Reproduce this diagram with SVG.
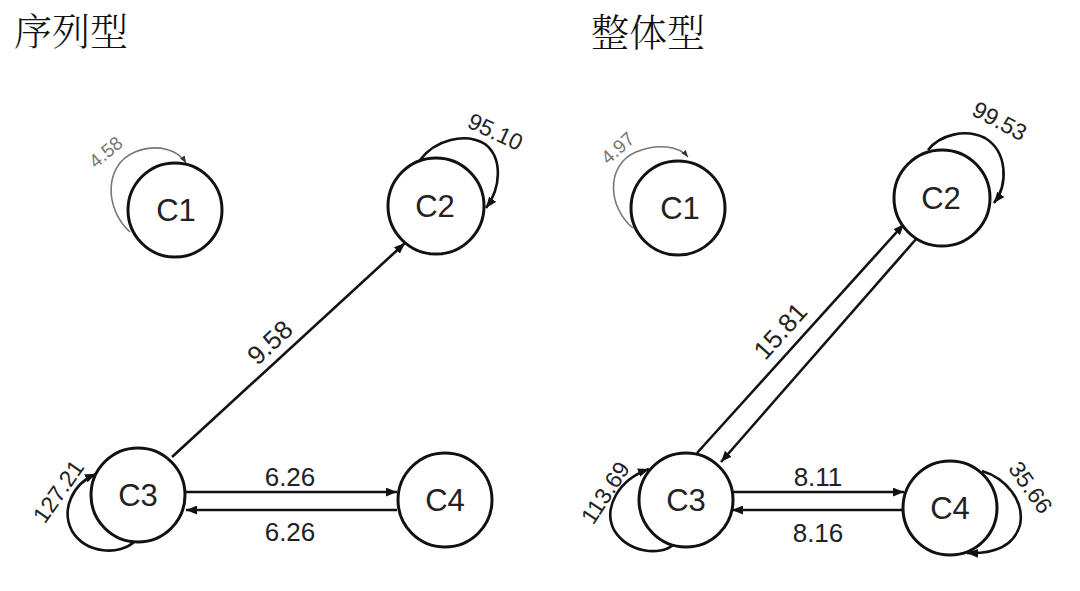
<svg xmlns="http://www.w3.org/2000/svg" width="1080" height="591" viewBox="0 0 1080 591">
<defs>
<style>
.node circle{fill:#fff;stroke:#111;stroke-width:3}
.node text{font-family:"Liberation Sans",Arial,sans-serif;font-size:31px;fill:#222;text-anchor:middle}
.edge{fill:none;stroke:#111;stroke-width:2.6}
.loopg{fill:none;stroke:#777;stroke-width:1.6}
.lbl{font-family:"Liberation Sans",Arial,sans-serif;font-size:26px;fill:#222;text-anchor:middle}
.lbls{font-family:"Liberation Sans",Arial,sans-serif;font-size:23px;fill:#222;text-anchor:middle}
.lblg{font-family:"Liberation Sans",Arial,sans-serif;font-size:19px;fill:#777;text-anchor:middle}
.title{font-family:"Noto Serif CJK SC","Noto Sans CJK SC","Noto Sans CJK JP",serif;font-size:38px;font-weight:300;fill:#111}
</style>
<marker id="ah" viewBox="0 0 10 8" refX="10" refY="4" markerWidth="11" markerHeight="9" markerUnits="userSpaceOnUse" orient="auto"><path d="M0,0 L10,4 L0,8 z" fill="#111"/></marker>
<marker id="ahg" viewBox="0 0 10 8" refX="10" refY="4" markerWidth="7" markerHeight="6" markerUnits="userSpaceOnUse" orient="auto"><path d="M0,0 L10,4 L0,8 z" fill="#333"/></marker>
</defs>
<rect width="1080" height="591" fill="#fff"/>
<text class="title" x="14" y="45">序列型</text>
<text class="title" x="591" y="46">整体型</text>

<g id="connectors">
<!-- left panel -->
<path class="loopg" d="M130,232 C105,210 103,165 135,152 C158,143 178,150 186,163" marker-end="url(#ahg)"/>
<path class="edge" d="M420,160 C435,140 465,132 485,144 C503,158 501,188 486,208" marker-end="url(#ah)"/>
<path class="edge" d="M135,541 C120,556 86,554 72,531 C61,510 72,484 96,474" marker-end="url(#ah)"/>
<path class="edge" d="M186,492 L397,492" marker-end="url(#ah)"/>
<path class="edge" d="M397,510 L186,510" marker-end="url(#ah)"/>
<path class="edge" d="M172,457 L405,243" marker-end="url(#ah)"/>
<!-- right panel -->
<path class="loopg" d="M633,228 C608,208 605,165 636,152 C658,143 679,146 688,157" marker-end="url(#ahg)"/>
<path class="edge" d="M928,150 C940,135 965,128 985,138 C1008,152 1008,185 994,203" marker-end="url(#ah)"/>
<path class="edge" d="M673,545 C660,556 628,553 614,530 C603,508 618,480 649,469" marker-end="url(#ah)"/>
<path class="edge" d="M982,471 C1005,478 1025,500 1020,525 C1014,546 995,554 967,553" marker-end="url(#ah)"/>
<path class="edge" d="M731,492 L904,492" marker-end="url(#ah)"/>
<path class="edge" d="M903,510 L732,510" marker-end="url(#ah)"/>
<path class="edge" d="M697,453 L904,224" marker-end="url(#ah)"/>
<path class="edge" d="M917,238 L721,462" marker-end="url(#ah)"/>
</g>

<g id="edge-labels">
<text class="lblg" transform="translate(110,157) rotate(-40)">4.58</text>
<text class="lbls" transform="translate(492,139) rotate(25)">95.10</text>
<text class="lbls" transform="translate(65,496) rotate(-55)">127.21</text>
<text class="lbl" transform="translate(276,349) rotate(-43)">9.58</text>
<text class="lbl" x="290" y="486">6.26</text>
<text class="lbl" x="290" y="541">6.26</text>
<text class="lblg" transform="translate(622,153) rotate(-42)">4.97</text>
<text class="lbls" transform="translate(996,128) rotate(28)">99.53</text>
<text class="lbls" transform="translate(612,497) rotate(-57)">113.69</text>
<text class="lbls" transform="translate(1024,492) rotate(55)">35.66</text>
<text class="lbl" transform="translate(787,337) rotate(-48)">15.81</text>
<text class="lbl" x="818" y="486">8.11</text>
<text class="lbl" x="818" y="542">8.16</text>
</g>

<g id="L-C1" class="node"><circle cx="175" cy="210" r="47"/><text x="176" y="221">C1</text></g>
<g id="L-C2" class="node"><circle cx="436" cy="206" r="48"/><text x="435" y="217">C2</text></g>
<g id="L-C3" class="node"><circle cx="138" cy="495" r="47"/><text x="138" y="506">C3</text></g>
<g id="L-C4" class="node"><circle cx="445" cy="500" r="47"/><text x="445" y="511">C4</text></g>
<g id="R-C1" class="node"><circle cx="678" cy="208" r="47"/><text x="680" y="219">C1</text></g>
<g id="R-C2" class="node"><circle cx="942" cy="198" r="48"/><text x="941" y="209">C2</text></g>
<g id="R-C3" class="node"><circle cx="686" cy="500" r="47"/><text x="686" y="511">C3</text></g>
<g id="R-C4" class="node"><circle cx="950" cy="508" r="47"/><text x="950" y="519">C4</text></g>
</svg>
